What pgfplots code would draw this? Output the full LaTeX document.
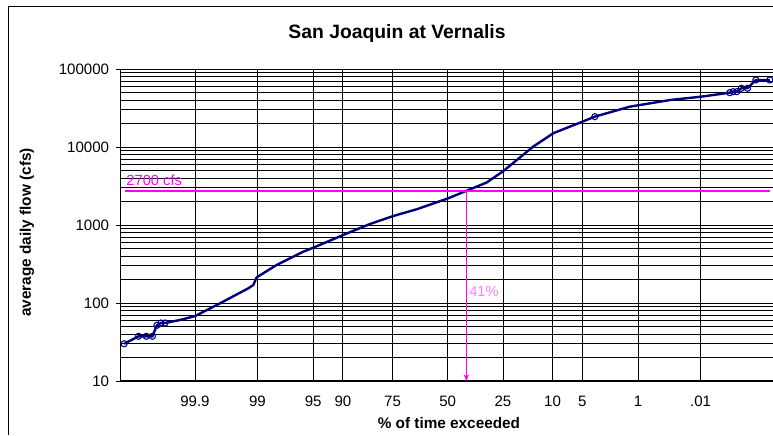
\documentclass[border=0pt]{standalone}
\usepackage{pgfplots}
\pgfplotsset{compat=1.18}
\usetikzlibrary{arrows.meta}
\usepackage{fontspec}
\setmainfont{Liberation Sans}
\definecolor{navyc}{HTML}{000080}
\definecolor{mag}{HTML}{FF00FF}
\definecolor{lmag}{HTML}{FF80FF}
\begin{document}
\begin{tikzpicture}
\useasboundingbox (0,0) rectangle (579.75pt,326.25pt);
\draw[line width=0.75pt] (6pt,0) -- (6pt,321pt) -- (579.75pt,321pt);
\node[font=\fontsize{14.5}{17}\selectfont\bfseries] at (297.75pt,301pt) {San Joaquin at Vernalis};
\node[font=\fontsize{11.5}{14}\selectfont\bfseries,rotate=90] at (20.25pt,151.9pt) {average daily flow (cfs)};
\node[font=\fontsize{11.5}{14}\selectfont\bfseries] at (336.7pt,9pt) {\% of time exceeded};
\begin{axis}[
  at={(90.375pt,40.5pt)}, anchor=south west,
  scale only axis, width=489pt, height=234pt,
  xmin=-4, xmax=3.97,
  ymode=log, ymin=10, ymax=100000,
  axis x line*=bottom, axis y line*=left,
  axis line style={line width=0.9pt,-},
  xtick={-3.0902,-2.3263,-1.6449,-1.2816,-0.6745,0,0.6745,1.2816,1.6449,2.3263,3.0902},
  xticklabels={99.9,99,95,90,75,50,25,10,5,1,.01},
  ytick={10,100,1000,10000,100000},
  yticklabels={10,100,1000,10000,100000},
  grid=both,
  major grid style={black,line width=0.6pt},
  minor grid style={black,line width=0.6pt},
  tick align=outside,
  major tick length=3.5pt, minor tick length=0pt,
  xtick style={draw=none},
  ytick style={black,line width=0.6pt},
  /pgf/number format/assume math mode=true,
  tick label style={font=\fontsize{11.3}{13}\selectfont},
  xticklabel style={anchor=center,yshift=-12pt},
  yticklabel style={anchor=east,xshift=-1.5pt},
  clip=false,
]
\addplot[navyc, line width=1.8pt, mark=o, mark size=2.3pt,
  mark options={line width=0.8pt, fill=none},
  mark indices={1,2,3,4,5,6,7,29,33,34,35,36,37,38,39}] coordinates {
(-3.955,30) (-3.78,37.4) (-3.685,37.4) (-3.61,37.4) (-3.555,51.8) (-3.505,55.5) (-3.456,55.5)
(-3.273,60.5) (-3.088,68) (-2.784,99) (-2.439,154) (-2.377,170) (-2.336,213) (-2.092,307)
(-1.766,455) (-1.644,512) (-1.44,630) (-1.278,745) (-0.951,1030) (-0.667,1303) (-0.381,1590)
(0.006,2200) (0.230,2750) (0.475,3500) (0.678,4900) (1.044,10100) (1.289,15000) (1.615,20500)
(1.798,24500) (2.226,32900) (2.724,40100) (3.10,44200) (3.447,49700) (3.488,51200)
(3.533,51200) (3.59,56600) (3.664,56600) (3.766,72300) (3.937,72300)
};
\addplot[mag, line width=1.4pt, no marks] coordinates {(-3.945,2700) (3.937,2700)};
\addplot[mag, line width=0.9pt, no marks, -{Stealth[length=5pt,width=4pt]}] coordinates {(0.2275,2700) (0.2275,10)};
\node[mag, anchor=west, font=\fontsize{11}{13}\selectfont, inner sep=0pt] at (axis cs:-3.93,3780) {2700 cfs};
\node[lmag, anchor=west, font=\fontsize{11}{13}\selectfont, inner sep=0pt] at (axis cs:0.26,140) {41\%};
\end{axis}
\end{tikzpicture}
\end{document}
